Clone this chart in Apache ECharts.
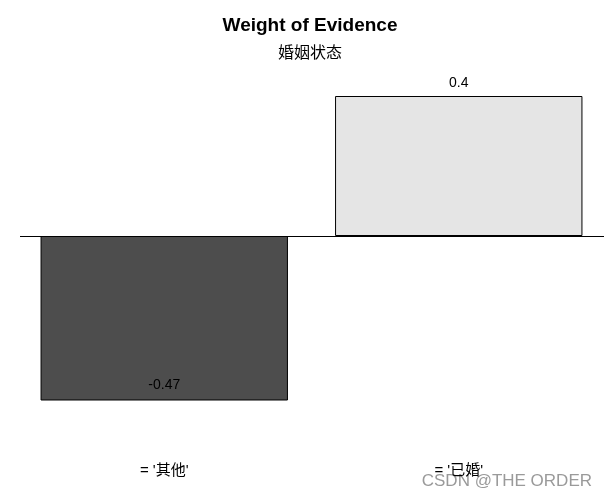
<!DOCTYPE html>
<html><head><meta charset="utf-8">
<script src="https://cdn.jsdelivr.net/npm/echarts@6/dist/echarts.min.js"></script>
<style>html,body{margin:0;padding:0;background:#fff}#c{width:606px;height:499px}</style>
</head><body><div id="c"></div>
<script>
const categories = ["= '其他'", "= '已婚'"];
const woeValues = [-0.47, 0.4];
const barColors = ['#4d4d4d', '#e5e5e5'];
const titleText = 'Weight of Evidence';
const subtitleText = '婚姻状态';

const chart = echarts.init(document.getElementById('c'));
const font = '"Liberation Sans", Arial, "Noto Sans CJK SC", sans-serif';
chart.setOption({
  backgroundColor: '#fff',
  animation: false,
  title: {
    text: titleText, subtext: subtitleText,
    left: 305, top: 11, textAlign: 'center', itemGap: 11,
    textStyle: {fontFamily: font, fontSize: 19, fontWeight: 'bold', color: '#000'},
    subtextStyle: {fontFamily: font, fontSize: 16, color: '#000'}
  },
  grid: {left: 17, width: 590, top: 61, height: 350},
  xAxis: {
    type: 'category', data: categories,
    axisLine: {show: false, onZero: false}, axisTick: {show: false},
    axisLabel: {margin: 52, fontFamily: font, fontSize: 15, color: '#000'}
  },
  yAxis: {type: 'value', min: -0.5, max: 0.5, show: false, splitLine: {show: false}},
  series: [{
    type: 'bar', barWidth: '84%',
    data: woeValues.map((v, i) => ({
      value: v,
      itemStyle: {color: barColors[i], borderColor: '#000', borderWidth: 1},
      label: {show: true, position: v < 0 ? 'insideBottom' : 'top', distance: v < 0 ? 8 : 6,
        fontFamily: font, fontSize: 14, color: '#000'}
    })),
    markLine: {
      silent: true, symbol: 'none', label: {show: false},
      lineStyle: {color: '#000', width: 1, type: 'solid'},
      data: [[{x: 20, yAxis: 0}, {x: 604, yAxis: 0}]]
    }
  }],
  graphic: [{
    type: 'text', right: 14, top: 473,
    style: {text: 'CSDN @THE ORDER', fontFamily: font, fontSize: 17, fill: '#9a9a9a'}
  }]
});
</script></body></html>
